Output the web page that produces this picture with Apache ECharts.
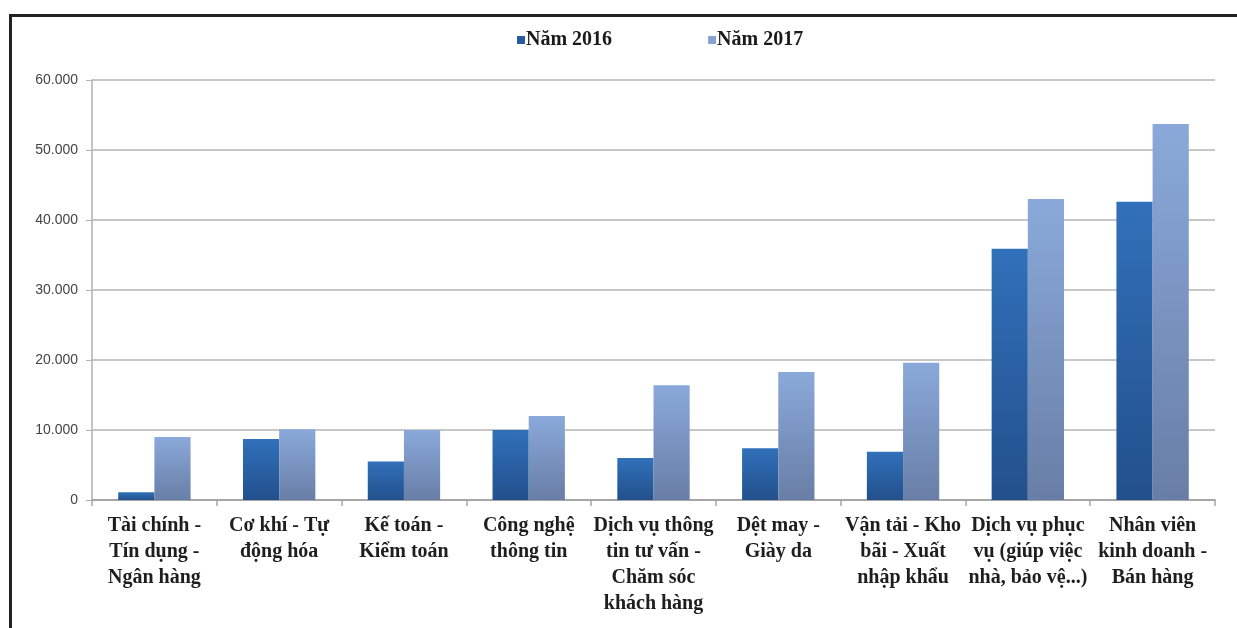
<!DOCTYPE html>
<html lang="vi">
<head>
    <meta charset="UTF-8">
    <title>Nhu cầu tuyển dụng 2016 - 2017</title>
    <script src="https://cdn.jsdelivr.net/npm/echarts@6.0.0/dist/echarts.min.js"></script>
    <style>
        * {
            margin: 0;
            padding: 0;
            box-sizing: border-box;
        }

        body {
            background: #fff;
            width: 1237px;
            height: 628px;
            overflow: hidden;
            position: relative;
        }

        /* khung ngoài như ảnh gốc */
        .frame {
            position: absolute;
            left: 9px;
            top: 14px;
            width: 1240px;
            height: 640px;
            border-left: 3px solid #222;
            border-top: 3px solid #222;
        }

        #chart {
            position: absolute;
            left: 0;
            top: 0;
            width: 1237px;
            height: 628px;
        }
    </style>
</head>
<body>
<div class="frame"></div>
<div id="chart"></div>

<script>
    // danh mục ngành nghề
    const categories = [
        'Tài chính -\nTín dụng -\nNgân hàng',
        'Cơ khí - Tự\nđộng hóa',
        'Kế toán -\nKiểm toán',
        'Công nghệ\nthông tin',
        'Dịch vụ thông\ntin tư vấn -\nChăm sóc\nkhách hàng',
        'Dệt may -\nGiày da',
        'Vận tải - Kho\nbãi - Xuất\nnhập khẩu',
        'Dịch vụ phục\nvụ (giúp việc\nnhà, bảo vệ...)',
        'Nhân viên\nkinh doanh -\nBán hàng'
    ];

    const seriesNames = ['Năm 2016', 'Năm 2017'];
    const values2016 = [1100, 8700, 5500, 10000, 6000, 7400, 6900, 35900, 42600];
    const values2017 = [9000, 10100, 10000, 12000, 16400, 18300, 19600, 43000, 53700];

    // dấu chấm phân cách hàng nghìn
    function fmt(v) {
        return String(v).replace(/\B(?=(\d{3})+(?!\d))/g, '.');
    }

    function grad(top, bottom) {
        return new echarts.graphic.LinearGradient(0, 0, 0, 1, [
            {offset: 0, color: top},
            {offset: 1, color: bottom}
        ]);
    }

    let myChart = echarts.init(document.getElementById('chart'));

    let option = {
        animation: false,
        legend: {
            left: 512,
            top: 25,
            itemGap: 96,
            itemWidth: 8,
            itemHeight: 8,
            icon: 'rect',
            textStyle: {
                fontFamily: 'Liberation Serif',
                fontWeight: 'bold',
                fontSize: 20,
                color: '#1a1a1a',
                padding: [0, 0, 0, -4]
            },
            data: [
                {name: seriesNames[0], itemStyle: {color: '#2b5a9e'}},
                {name: seriesNames[1], itemStyle: {color: '#8aa2cf'}}
            ]
        },
        grid: {
            left: 92,
            right: 22,
            top: 80,
            bottom: 128
        },
        xAxis: {
            type: 'category',
            data: categories,
            axisLine: {lineStyle: {color: '#a6a6a6', width: 2}},
            axisTick: {show: true, length: 6, lineStyle: {color: '#a6a6a6', width: 1.5}},
            axisLabel: {
                interval: 0,
                margin: 13,
                fontFamily: 'Liberation Serif',
                fontWeight: 'bold',
                fontSize: 20,
                lineHeight: 26,
                color: '#1e1e1e'
            }
        },
        yAxis: {
            type: 'value',
            min: 0,
            max: 60000,
            interval: 10000,
            axisLine: {show: true, lineStyle: {color: '#b0b0b0', width: 1.5}},
            axisTick: {show: true, length: 6, lineStyle: {color: '#b0b0b0'}},
            splitLine: {lineStyle: {color: '#b4b4b4', width: 1.5}},
            axisLabel: {
                margin: 14,
                fontFamily: 'Liberation Sans',
                fontSize: 14,
                color: '#444',
                formatter: fmt
            }
        },
        series: [
            {
                name: seriesNames[0],
                type: 'bar',
                data: values2016,
                barGap: '0%',
                barCategoryGap: '42%',
                itemStyle: {color: grad('#3170ba', '#22508c')}
            },
            {
                name: seriesNames[1],
                type: 'bar',
                data: values2017,
                barGap: '0%',
                barCategoryGap: '42%',
                itemStyle: {color: grad('#8aa9da', '#687ea6')}
            }
        ]
    };

    myChart.setOption(option);
</script>
</body>
</html>
